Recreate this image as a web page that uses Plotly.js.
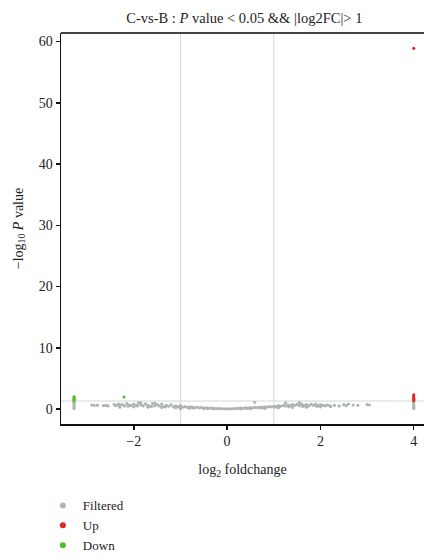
<!DOCTYPE html>
<html>
<head>
<meta charset="utf-8">
<script src="https://cdn.plot.ly/plotly-3.0.1.min.js"></script>
<style>html,body{margin:0;padding:0;background:#fff;}</style>
</head>
<body>
<div id="chart" style="width:425px;height:556px;"></div>
<script>
// Filtered (not significant) genes: log2 fold change and -log10 P value
const filteredX = [
  -3.28,-3.28,-3.28,-3.28,-3.28,-3.28,
  -2.9,-2.85,-2.78,-2.65,-2.6,-2.55,
  -2.42,-2.38,-2.33,-2.3,-2.25,-2.2,-2.15,-2.1,-2.05,-2.0,-1.95,-1.9,-1.85,-1.8,-1.75,-1.7,-1.65,-1.6,-1.55,-1.5,-1.45,-1.4,-1.35,-1.3,-1.25,-1.2,-1.15,-1.1,-1.05,-1.0,
  -0.95,-0.9,-0.85,-0.8,-0.75,-0.7,-0.65,-0.6,-0.55,-0.5,-0.45,-0.4,-0.35,-0.3,-0.25,-0.2,-0.15,-0.1,-0.05,0.0,
  0.05,0.1,0.15,0.2,0.25,0.3,0.35,0.4,0.45,0.5,0.55,0.6,0.65,0.7,0.75,0.8,0.85,0.9,0.95,1.0,
  1.05,1.1,1.15,1.2,1.25,1.3,1.35,1.4,1.45,1.5,1.55,1.6,1.65,1.7,1.75,1.8,1.85,1.9,1.95,2.0,
  2.05,2.1,2.15,2.2,2.3,2.4,2.5,2.55,2.6,2.7,2.8,3.0,3.05,
  -2.3,-2.0,-1.7,-1.4,-1.1,-0.8,-0.5,-1.0,0.5,0.8,1.1,1.4,1.7,2.0,-1.85,-1.55,1.25,1.55,0.59,-0.3,0.3,
  -2.12,-1.92,-1.62,-1.32,-1.02,-0.72,-0.42,0.42,0.72,1.02,1.32,1.62,1.92,2.22,
  4.0,4.0,4.0,4.0,4.0,4.0
];
const filteredY = [
  0.1,0.3,0.55,0.8,1.0,1.2,
  0.65,0.6,0.62,0.55,0.58,0.5,
  0.7,0.55,0.8,0.6,0.75,0.5,0.9,0.65,0.55,0.8,0.6,1.0,0.7,0.5,0.85,0.6,0.45,0.9,0.55,0.7,0.5,0.8,0.4,0.6,0.45,0.7,0.35,0.5,0.4,0.55,
  0.3,0.4,0.25,0.35,0.3,0.2,0.3,0.2,0.25,0.15,0.2,0.12,0.15,0.1,0.08,0.06,0.05,0.03,0.02,0.01,
  0.02,0.04,0.06,0.08,0.1,0.14,0.12,0.18,0.15,0.22,0.2,0.25,0.22,0.3,0.25,0.35,0.3,0.4,0.35,0.45,
  0.4,0.55,0.45,0.6,0.5,0.65,0.55,0.7,0.6,0.75,0.55,0.8,0.6,0.7,0.5,0.75,0.6,0.8,0.55,0.7,
  0.6,0.5,0.65,0.55,0.6,0.5,0.7,0.55,0.8,0.65,0.6,0.7,0.65,
  0.3,0.35,0.3,0.25,0.2,0.12,0.05,0.05,0.05,0.1,0.2,0.25,0.3,0.35,1.0,0.95,1.0,1.05,1.1,0.02,0.03,
  0.45,0.5,0.4,0.35,0.3,0.15,0.1,0.1,0.15,0.3,0.35,0.4,0.45,0.4,
  0.1,0.3,0.55,0.8,1.0,1.2
];
// Up-regulated genes
const upX = [4.0,4.0,4.0,4.0,4.0,4.0];
const upY = [1.4,1.6,1.8,2.0,2.3,58.9];
// Down-regulated genes
const downX = [-3.28,-3.28,-3.28,-3.28,-2.21];
const downY = [1.4,1.6,1.8,2.0,1.96];

const seriesNames = ["Filtered","Up","Down"];
const seriesColors = ["#adb5b3","#e3261f","#4dbf2a"];
const xTicks = [-2,0,2,4];
const yTicks = [0,10,20,30,40,50,60];
const pCut = -Math.log10(0.05);
const fcCut = 1;

const font = "Liberation Serif, DejaVu Serif, serif";
const dataX = [filteredX, upX, downX];
const dataY = [filteredY, upY, downY];
const traces = [];
for (let i = 0; i < 3; i++) {
  traces.push({x: dataX[i], y: dataY[i], name: seriesNames[i], mode: "markers", type: "scatter",
    showlegend: false, legendgroup: seriesNames[i], marker: {color: seriesColors[i], size: 3.2}});
}
// legend entries (larger symbol, no data drawn)
for (let i = 0; i < 3; i++) {
  traces.push({x: [null], y: [null], name: seriesNames[i], mode: "markers", type: "scatter",
    legendgroup: seriesNames[i], marker: {color: seriesColors[i], size: 6}});
}

const layout = {
  width: 425, height: 556,
  margin: {l: 61, r: 1, t: 33, b: 132, autoexpand: false},
  paper_bgcolor: "#fff", plot_bgcolor: "#fff",
  font: {family: font, size: 14, color: "#222"},
  title: {text: "C-vs-B : <i>P</i> value < 0.05 && |log2FC|> 1", x: 0.575, xanchor: "center", y: 0.967, yanchor: "middle",
          font: {family: font, size: 14.5, color: "#222"}},
  xaxis: {range: [-3.56, 4.22], tickvals: xTicks, ticktext: xTicks.map(v => v < 0 ? "\u2212" + Math.abs(v) : String(v)),
          showgrid: false, zeroline: false, showline: true, linecolor: "#111", linewidth: 1.5,
          ticks: "outside", ticklen: 4, tickwidth: 1.5, tickcolor: "#111",
          title: {text: "log<sub>2</sub> foldchange", standoff: 16, font: {family: font, size: 14}}},
  yaxis: {range: [-2.45, 61.4], tickvals: yTicks, showgrid: false, zeroline: false, showline: true,
          linecolor: "#111", linewidth: 1.5, ticks: "outside", ticklen: 4, tickwidth: 1.5, tickcolor: "#111",
          title: {text: "\u2212log<sub>10</sub> <i>P</i> value", standoff: 12, font: {family: font, size: 14}}},
  shapes: [
    {type: "line", xref: "x", yref: "paper", x0: -fcCut, x1: -fcCut, y0: 0, y1: 1, line: {color: "#d4d8d8", width: 1}, layer: "below"},
    {type: "line", xref: "x", yref: "paper", x0: fcCut, x1: fcCut, y0: 0, y1: 1, line: {color: "#d4d8d8", width: 1}, layer: "below"},
    {type: "line", xref: "paper", yref: "y", x0: 0, x1: 1, y0: pCut, y1: pCut, line: {color: "#d4d8d8", width: 1}, layer: "below"},
    {type: "line", xref: "paper", yref: "paper", x0: 0, x1: 1, y0: 1, y1: 1, line: {color: "#444", width: 2}}
  ],
  showlegend: true,
  legend: {x: -0.05, xanchor: "left", y: -0.17, yanchor: "top", font: {family: font, size: 13, color: "#222"},
           tracegroupgap: 0, itemsizing: "trace", bgcolor: "rgba(0,0,0,0)", traceorder: "normal"}
};

Plotly.newPlot("chart", traces, layout, {displayModeBar: false, staticPlot: true});
</script>
</body>
</html>
